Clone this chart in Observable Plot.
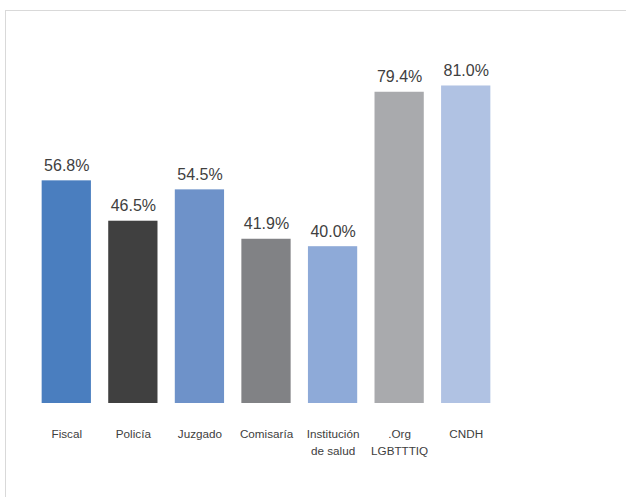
<!DOCTYPE html>
<html>
<head>
<meta charset="utf-8">
<script src="https://cdn.jsdelivr.net/npm/d3@7"></script>
<script src="https://cdn.jsdelivr.net/npm/@observablehq/plot@0.6"></script>
<style>
  html, body { margin: 0; padding: 0; background: #fff; overflow: hidden; }
  #wrap { position: relative; width: 626px; height: 497px; overflow: hidden; }
  #frame { position: absolute; left: 5px; top: 10px; width: 800px; height: 800px; border-top: 1.5px solid #d9d9d9; border-left: 1.5px solid #d9d9d9; }
  #chart { position: absolute; left: 0; top: 0; }
</style>
</head>
<body>
<div id="wrap"><div id="frame"></div><div id="chart"></div></div>
<script>
const categories = ["Fiscal", "Policía", "Juzgado", "Comisaría", "Institución\nde salud", ".Org\nLGBTTTIQ", "CNDH"];
const values = [56.8, 46.5, 54.5, 41.9, 40.0, 79.4, 81.0];
const colors = ["#4a7ebf", "#404040", "#6e92c9", "#818285", "#8eaad8", "#a9aaad", "#b0c2e3"];

const data = categories.map((c, i) => ({cat: c, value: values[i], color: colors[i]}));

const chart = Plot.plot({
  width: 626,
  height: 497,
  marginTop: 11,
  marginBottom: 94,
  marginLeft: 33,
  marginRight: 127,
  style: {fontFamily: "'Liberation Sans', Arial, sans-serif", background: "transparent"},
  x: {domain: categories, paddingInner: 0.26, paddingOuter: 0.13, round: false, axis: null},
  y: {domain: [0, 100], axis: null},
  marks: [
    Plot.barY(data, {x: "cat", y: "value", fill: "color"}),
    Plot.text(data, {x: "cat", y: "value", text: d => d.value.toFixed(1) + "%", lineAnchor: "bottom", dy: -10, fontSize: 16, fill: "#404040"}),
    Plot.text(data, {x: "cat", y: 0, text: "cat", lineAnchor: "top", dy: 22, fontSize: 11.7, lineHeight: 1.45, fill: "#404040"})
  ]
});
document.getElementById("chart").appendChild(chart);
</script>
</body>
</html>
